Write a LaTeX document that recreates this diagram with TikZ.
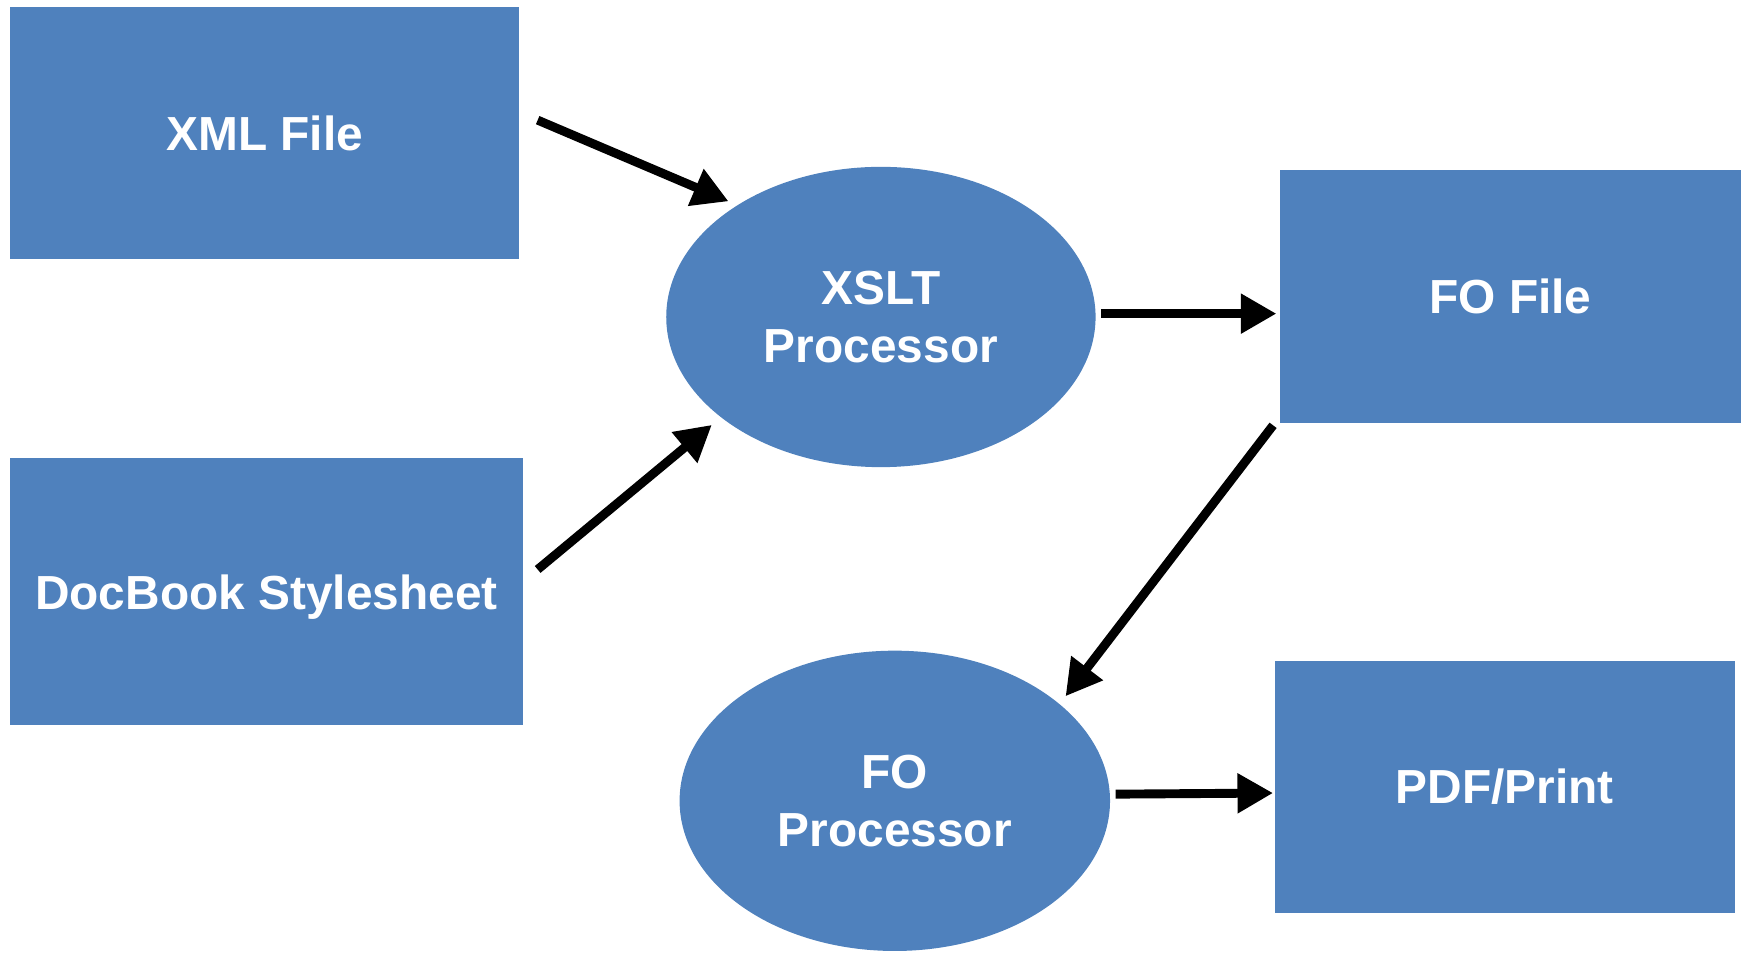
\documentclass[tikz,border=0pt]{standalone}
\usepackage{fontspec}
\setmainfont{Liberation Sans}
\usetikzlibrary{shapes.geometric,arrows.meta,calc}
\definecolor{boxblue}{HTML}{4F81BD}
\tikzset{
  base/.style={fill=boxblue, draw=none, inner sep=0pt, text=white,
    font=\fontsize{21.5}{26}\selectfont\bfseries, align=center},
  filebox/.style={base, rectangle},
  procell/.style={base, ellipse},
  flow/.style={line width=4pt, -{Triangle[width=17pt,length=16pt]}}
}
\begin{document}
\begin{tikzpicture}[x=0.5pt,y=-0.5pt]
\useasboundingbox (0,0) rectangle (1568,856);
\node[filebox, minimum width=229pt, minimum height=113.5pt] (xml) at (238,119.5) {XML File};
\node[filebox, minimum width=230.5pt, minimum height=120pt, text depth=0pt] (doc) at (239.5,532) {DocBook Stylesheet};
\node[filebox, minimum width=207pt, minimum height=113.5pt] (fofile) at (1358,266.5) {FO File};
\node[filebox, minimum width=207pt, minimum height=113.5pt] (pdf) at (1353,707.5) {PDF/Print};
\node[procell, minimum width=193pt, minimum height=135pt] (xslt) at (792,285) {XSLT\\Processor};
\node[procell, minimum width=193.5pt, minimum height=135pt] (fop) at (804.5,720) {FO\\Processor};

\draw[flow] ($(xml.east)+(16,-11.5)$) -- ($(xslt.center)+(-137,-104)$);
\draw[flow] ($(doc.east)+(13,-20)$) -- ($(xslt.center)+(-152,97)$);
\draw[flow] ($(xslt.center)+(198,-3)$) -- ($(fofile.west)+(-3,15.5)$);
\draw[flow] ($(fofile.south west)+(-6,2)$) -- ($(fop.center)+(153.5,-94)$);
\draw[flow] ($(fop.center)+(198.5,-6)$) -- ($(pdf.west)+(-1,5.5)$);
\end{tikzpicture}
\end{document}
